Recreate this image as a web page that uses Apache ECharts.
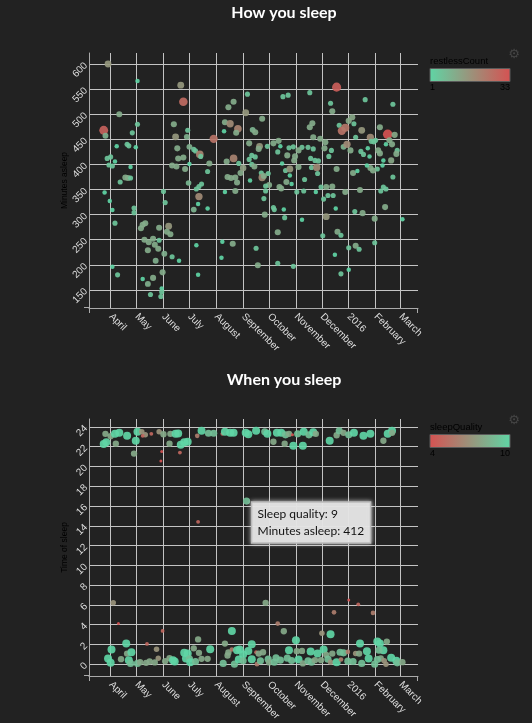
<!DOCTYPE html>
<html><head><meta charset="utf-8">
<script src="https://cdn.jsdelivr.net/npm/echarts@6/dist/echarts.min.js"></script>
<style>html,body{margin:0;padding:0;background:#222;}#c{width:532px;height:723px;}</style>
</head><body><div id="c"></div>
<script>
// ---- axes / ticks ----
const monthTickDates = ['2015-04-01','2015-05-01','2015-06-01','2015-07-01','2015-08-01','2015-09-01','2015-10-01','2015-11-01','2015-12-01','2016-01-01','2016-02-01','2016-03-01'];
const monthTickLabels = ['April','May','June','July','August','September','October','November','December','2016','February','March'];
const xDomain = ['2015-03-07','2016-03-21'];
const minutesTicks = [150,200,250,300,350,400,450,500,550,600];
const minutesDomain = [114,622];
const timeTicks = [0,2,4,6,8,10,12,14,16,18,20,22,24];
const timeDomain = [-1.2,24.8];
const restlessRange = [1,33];
const qualityRange = [4,10];

// ---- How you sleep ----
const howDates = ['2015-03-29','2015-05-02','2015-06-21','2015-06-24','2015-09-06','2015-08-21','2015-08-15','2015-09-04','2015-04-11','2015-05-02',
'2015-06-13','2015-08-11','2015-08-17','2015-08-26','2015-08-10','2015-08-24','2015-03-24','2015-03-26','2015-04-26','2015-06-29',
'2015-06-15','2015-06-28','2015-07-29','2015-04-08','2015-04-20','2015-04-22','2015-04-30','2015-06-17','2015-07-01','2015-07-06',
'2015-07-08','2015-07-13','2015-07-14','2015-06-18','2015-06-24','2015-03-28','2015-04-01','2015-04-06','2015-03-30','2015-04-03',
'2015-04-24','2015-06-11','2015-06-16','2015-07-01','2015-06-26','2015-07-24','2015-07-22','2015-08-13','2015-08-21','2015-08-27',
'2015-08-29','2015-09-01','2015-08-14','2015-08-18','2015-08-23','2015-08-25','2015-09-09','2015-04-18','2015-04-21','2015-04-24',
'2015-04-12','2015-03-25','2015-06-01','2015-06-30','2015-07-09','2015-07-12','2015-07-15','2015-07-12','2015-07-11','2015-07-06',
'2015-07-22','2015-08-11','2015-08-23','2015-03-31','2015-04-03','2015-04-28','2015-04-28','2015-06-03','2015-04-06','2015-05-11',
'2015-05-08','2015-05-06','2015-05-27','2015-06-07','2015-06-05','2015-06-09','2015-05-10','2015-05-15','2015-05-20','2015-05-22',
'2015-05-26','2015-05-27','2015-05-14','2015-06-02','2015-06-11','2015-06-19','2015-05-23','2015-07-09','2015-08-08','2015-08-20',
'2015-08-07','2015-04-03','2015-04-09','2015-05-31','2015-05-08','2015-05-20','2015-05-14','2015-05-17','2015-05-30','2015-05-30',
'2015-05-29','2015-07-11',
'2015-12-18','2015-10-17','2015-10-23','2015-11-17','2015-12-11','2015-12-13','2016-01-20','2016-02-21','2015-09-23','2015-09-12',
'2015-09-15','2015-11-20','2015-11-17','2015-12-21','2015-12-24','2015-12-28','2016-01-01','2016-01-05','2016-01-07','2016-01-16',
'2016-02-06','2016-02-15','2016-02-23','2016-01-26','2016-01-09','2015-11-21','2015-11-29','2015-12-05','2015-10-12','2015-10-06',
'2015-09-20','2015-09-19','2015-09-08','2015-09-29','2015-10-14','2015-10-24','2015-10-29','2015-11-08','2015-11-15','2015-11-21',
'2015-12-04','2015-11-04','2015-10-11','2015-10-22','2015-10-31','2015-12-12','2015-12-09','2015-12-26','2015-12-30','2016-01-03',
'2016-01-15','2016-01-18','2016-01-23','2016-01-25','2016-01-27','2016-02-01','2016-01-30','2016-02-13','2016-02-17','2016-02-20',
'2016-02-04','2016-02-06','2016-02-26','2016-02-25','2016-02-19','2016-02-10','2016-02-09','2016-02-03','2016-01-29','2016-01-26',
'2016-01-22','2015-12-18','2016-01-06','2016-01-11','2016-02-21','2015-09-15','2015-09-11','2015-09-11','2015-09-14','2015-09-08',
'2015-09-22','2015-09-30','2015-09-23','2015-09-25','2015-10-16','2015-10-20','2015-10-25','2015-10-25','2015-10-30','2015-11-04',
'2015-11-19','2015-11-18','2015-11-23','2015-11-27','2015-11-25','2015-11-26','2015-10-21','2015-10-27','2015-11-11','2015-10-01',
'2015-09-27','2015-09-27','2015-10-13','2015-10-15','2015-11-02','2015-11-10','2015-11-24','2015-11-30','2015-12-06','2015-12-13',
'2015-12-03','2015-12-08','2015-12-14','2015-12-28','2016-01-14','2016-02-07','2016-02-10','2016-02-13','2016-02-12','2015-09-25',
'2015-10-06','2015-10-07','2015-09-26','2015-10-18','2015-10-19','2015-11-08','2015-12-06','2015-12-17','2016-01-08','2016-01-17',
'2016-01-31','2016-03-03','2015-10-11','2015-12-02','2015-12-19','2015-12-23','2015-09-16','2015-09-18','2015-10-11','2015-10-29',
'2016-01-01','2016-01-09','2016-01-13','2015-12-16','2016-01-31','2016-01-01','2015-12-23'];
const howMinutes = [600,566,558,525,540,525,514,503,500,480,
480,484,481,471,466,463,468,457,463,468,
455,455,451,436,440,437,434,432,435,430,
427,420,416,412,414,412,415,406,399,397,
395,398,396,401,391,402,386,406,412,402,
383,393,375,373,374,364,368,374,373,373,
365,344,346,363,351,356,361,336,321,310,
312,345,347,327,309,313,304,324,283,283,
280,273,274,277,266,261,250,245,252,240,
232,249,229,222,216,208,208,239,246,242,
214,196,180,185,172,174,162,141,153,146,
137,180,
554,535,538,543,522,506,529,520,491,469,
464,482,474,478,467,473,487,494,481,468,
474,460,459,454,454,454,451,444,447,442,
436,431,442,436,436,433,435,434,434,431,
432,428,425,418,416,428,416,435,440,428,
426,420,432,416,446,448,445,440,448,440,
428,422,428,421,408,408,398,391,388,393,
398,391,383,387,375,415,418,400,396,410,
383,382,374,377,402,388,378,391,408,395,
394,412,408,407,394,382,365,361,370,359,
357,347,355,352,345,347,345,355,355,356,
331,338,338,345,349,347,355,351,315,332,
314,310,300,310,294,290,296,312,306,303,
292,291,265,258,266,259,233,199,203,197,
234,238,231,220,244,190,182];
const howRestless = [16,1,16,27,5,11,11,16,11,5,
11,11,19,21,1,11,29,10,5,5,
16,10,25,1,5,5,1,11,10,5,
5,21,5,11,11,5,5,1,5,5,
1,11,11,1,11,11,5,11,21,5,
11,14,11,11,11,11,1,11,11,5,
5,1,5,8,5,5,5,19,1,9,
1,1,11,1,1,5,5,5,5,11,
11,11,11,16,11,11,11,11,11,11,
11,5,11,10,5,1,10,1,1,11,
1,1,5,11,1,11,10,5,1,5,
5,1,
30,5,5,5,5,11,5,5,11,9,
11,11,11,5,25,24,12,12,5,16,
11,33,12,19,5,11,11,11,11,11,
16,11,11,5,1,5,5,5,5,5,
11,11,5,11,11,5,5,9,19,11,
5,5,1,1,5,5,5,1,11,11,
11,11,5,11,12,1,1,5,11,11,
1,11,11,1,5,5,5,5,11,5,
5,5,19,11,1,5,1,16,11,11,
5,5,5,5,19,5,11,1,5,11,
5,5,11,11,5,5,1,5,11,11,
5,5,5,11,11,5,5,5,11,5,
5,5,11,1,5,1,16,1,5,11,
11,1,11,5,11,5,5,11,5,5,
5,11,5,1,5,1,5];

// ---- When you sleep ----
const whenDates = ['2015-03-24','2015-03-27','2015-03-26','2015-04-01','2015-04-07','2015-04-06','2015-04-11','2015-04-20','2015-04-28','2015-04-30',
'2015-05-02','2015-05-07','2015-05-11','2015-05-08','2015-05-18','2015-05-27','2015-06-01','2015-06-08','2015-06-09','2015-06-15',
'2015-06-18','2015-05-30','2015-05-29','2015-06-20','2015-06-21','2015-06-25','2015-06-29','2015-07-11','2015-07-10','2015-07-15',
'2015-07-23','2015-07-29','2015-08-08','2015-08-11','2015-08-17','2015-08-21','2015-09-04','2015-09-07','2015-09-05','2015-09-16',
'2015-09-26','2015-09-29','2015-10-06','2015-10-10','2015-10-15','2015-10-19','2015-10-20','2015-10-24','2015-10-28','2015-10-29',
'2015-11-03','2015-11-09','2015-11-10','2015-11-16','2015-11-21','2015-11-24','2015-12-10','2015-12-18','2015-12-21','2015-12-26',
'2016-01-01','2016-01-07','2016-01-18','2016-01-26','2016-02-10','2016-02-15','2016-02-20','2016-02-20',
'2015-04-04','2015-04-10','2015-04-02','2015-03-29','2015-04-01','2015-04-13','2015-04-19','2015-04-20','2015-04-25','2015-04-22',
'2015-04-24','2015-05-02','2015-05-05','2015-05-13','2015-05-12','2015-05-16','2015-05-24','2015-05-26','2015-05-22','2015-05-31',
'2015-06-03','2015-06-08','2015-06-12','2015-06-14','2015-06-25','2015-06-29','2015-06-27','2015-07-01','2015-07-02','2015-07-06',
'2015-07-11','2015-07-12','2015-07-08','2015-07-15','2015-07-22','2015-07-25','2015-08-11','2015-08-09','2015-08-14','2015-08-15',
'2015-08-19','2015-08-19','2015-08-22','2015-08-25','2015-08-28','2015-08-27','2015-09-01','2015-09-01','2015-09-07','2015-09-11',
'2015-09-11','2015-09-16','2015-09-17','2015-09-19','2015-09-24','2015-09-21','2015-09-27','2015-09-30','2015-10-01','2015-10-07',
'2015-10-11','2015-10-09','2015-10-14','2015-10-18','2015-10-24','2015-10-22','2015-10-27','2015-11-01','2015-11-02','2015-11-08',
'2015-11-04','2015-11-09','2015-11-15','2015-11-18','2015-11-19','2015-11-23','2015-11-26','2015-11-30','2015-12-01','2015-12-03',
'2015-12-06','2015-12-08','2015-12-11','2015-12-13','2015-12-15','2015-12-11','2015-12-18','2015-12-23','2015-12-22','2015-12-26',
'2016-01-01','2015-12-31','2015-12-31','2016-01-06','2016-01-09','2016-01-13','2016-01-12','2016-01-14','2016-01-16','2016-01-22',
'2016-01-24','2016-01-29','2016-01-31','2016-02-03','2016-02-06','2016-02-10','2016-02-07','2016-02-11','2016-02-14','2016-02-13',
'2016-02-19','2016-02-25','2016-02-26','2016-03-03','2016-02-03','2016-02-05'];
const whenTime = [22.28,22.45,23.3,23.06,22.3,23.3,23.4,23.1,21.3,22.6,
23.5,23.5,23.2,23.1,23.3,23.5,23.26,22.3,23.3,23.3,
23.33,21.5,20.56,21.4,22.2,22.45,22.5,14.4,23.1,23.6,
23.36,23.36,23.3,23.5,23.4,23.4,23.4,23.26,16.5,23.6,
23.5,23.3,22.5,23.4,23.4,22.3,23.2,23.3,23.2,22.1,
23.3,22.1,23.5,23.2,23.46,23.3,22.6,23.16,23.6,23.4,
23.2,23.4,23.1,23.3,22.6,23.3,23.6,23.4,
6.2,4.1,1.48,0.57,0.13,0.5,2.08,1.07,1.2,0.4,
0.07,0.07,0.2,2.05,0.13,0.27,1.5,0.6,0.17,3.36,
0.3,0.6,0.4,0.27,1.14,1.08,0.57,0.54,0.2,1.6,
2.5,1.14,0.27,0.54,0.54,1.5,2.08,0.07,0.87,1.18,
3.36,1.48,0.0,1.41,1.48,0.47,0.97,0.34,1.34,2.0,
0.5,1.2,0.0,1.07,1.2,0.34,6.2,0.5,0.17,0.2,
4.1,0.64,0.4,3.33,1.41,0.6,0.37,2.42,1.31,1.34,
0.47,0.07,0.34,1.28,0.2,0.4,1.07,0.4,3.13,1.48,
0.94,0.5,3.02,1.07,5.24,0.2,0.2,0.47,1.2,1.14,
6.5,1.24,0.3,0.27,1.07,1.07,6.05,2.08,0.07,1.31,
0.57,5.18,0.0,2.28,2.08,1.41,0.57,0.34,2.28,0.0,
0.64,0.34,0.13,0.2,0.47,1.41];
const whenQuality = [10,10,8,8,8,10,10,10,8,10,
10,7,7,5,5,7,8,8,8,10,
10,4,4,5,10,10,10,5,6,10,
9,9,5,10,10,10,10,10,9,10,
9,10,8,10,10,8,9,8,4,10,
9,10,10,9,10,8,10,8,9,8,
9,10,10,10,8,10,10,8,
7,4,10,10,10,8,10,8,10,10,
9,9,8,5,8,8,7,7,8,5,
8,8,10,10,10,10,10,9,10,8,
8,8,9,8,8,10,8,9,8,8,
10,6,9,10,10,10,10,9,10,10,
10,5,6,8,8,9,8,9,8,9,
6,9,9,8,10,9,9,10,8,8,
10,8,9,10,9,8,10,8,7,10,
8,9,10,8,6,7,10,6,9,9,
4,6,9,9,7,8,5,10,9,10,
10,6,9,10,10,10,8,7,8,7,
10,10,9,8,9,9];

// highlighted night (tooltip)
const tipDate = '2015-09-05';
const tipMinutes = 412;

const ts = d => Date.parse(d);
const monthTs = monthTickDates.map(ts);
const FONT = '"Liberation Sans", Arial, Helvetica, sans-serif';
const TITLEFONT = 'Lato, "Noto Sans", sans-serif';
const gridColor = '#c4c4c4';
const axisColor = '#aaa';
const cGreen = '#5fd5a5', cRed = '#d55252';

function xAxisFor(gi) {
  return {
    type: 'value', gridIndex: gi, min: ts(xDomain[0]), max: ts(xDomain[1]),
    axisLine: { show: true, onZero: false, lineStyle: { color: axisColor, width: 1 } },
    axisTick: { show: false, customValues: monthTs },
    axisLabel: { show: true, customValues: monthTs, rotate: -45, margin: 7, color: '#ddd', fontSize: 10, fontFamily: FONT,
      formatter: v => { const i = monthTs.indexOf(v); return i >= 0 ? monthTickLabels[i] : ''; } },
    splitLine: { show: true, lineStyle: { color: gridColor, width: 1 } }
  };
}
function yAxisFor(gi, dom, ticks, name) {
  return {
    type: 'value', gridIndex: gi, min: dom[0], max: dom[1],
    name: name, nameLocation: 'middle', nameGap: 20, nameRotate: 90, nameMoveOverlap: false,
    nameTextStyle: { color: '#000', fontSize: 8.5, fontFamily: FONT },
    axisLine: { show: true, onZero: false, lineStyle: { color: axisColor, width: 1 } },
    axisTick: { show: false, customValues: ticks },
    axisLabel: { show: true, customValues: ticks, rotate: 45, margin: 3, color: '#ddd', fontSize: 10, fontFamily: FONT },
    splitLine: { show: true, lineStyle: { color: gridColor, width: 1 } }
  };
}

const howData = howDates.map((d, i) => [ts(d), howMinutes[i], howRestless[i]]);
const whenData = whenDates.map((d, i) => [ts(d), whenTime[i], whenQuality[i]]);

const chart = echarts.init(document.getElementById('c'), null, { renderer: 'canvas' });

function legend(id, y, title, lo, hi, colors) {
  return [
    { id: id + 't', type: 'text', x: 430, y: y - 7, style: { text: title, fill: '#000', font: '9.5px ' + FONT, verticalAlign: 'middle' } },
    { id: id + 'r', type: 'rect', shape: { x: 430, y: y, width: 80, height: 13 },
      style: { fill: new echarts.graphic.LinearGradient(0, 0, 1, 0, [{ offset: 0, color: colors[0] }, { offset: 1, color: colors[1] }]), stroke: '#5a5a5a', lineWidth: 1 } },
    { id: id + 'lo', type: 'text', x: 430, y: y + 19, style: { text: String(lo), fill: '#000', font: '9px ' + FONT, verticalAlign: 'middle', align: 'left' } },
    { id: id + 'hi', type: 'text', x: 510, y: y + 19, style: { text: String(hi), fill: '#000', font: '9px ' + FONT, verticalAlign: 'middle', align: 'right' } }
  ];
}

const option = {
  backgroundColor: '#222',
  animation: false,
  title: [
    { text: 'How you sleep', left: 284, top: 5, textAlign: 'center', padding: 0, textStyle: { color: '#fff', fontSize: 16, fontWeight: 'bold', fontFamily: TITLEFONT } },
    { text: 'When you sleep', left: 284, top: 372, textAlign: 'center', padding: 0, textStyle: { color: '#fff', fontSize: 16, fontWeight: 'bold', fontFamily: TITLEFONT } }
  ],
  grid: [
    { left: 89, top: 53, width: 329, height: 255, containLabel: false, outerBoundsMode: 'none' },
    { left: 89, top: 419, width: 329, height: 257, containLabel: false, outerBoundsMode: 'none' }
  ],
  xAxis: [xAxisFor(0), xAxisFor(1)],
  yAxis: [yAxisFor(0, minutesDomain, minutesTicks, 'Minutes asleep'), yAxisFor(1, timeDomain, timeTicks, 'Time of sleep')],
  visualMap: [
    { show: false, type: 'continuous', seriesIndex: 0, dimension: 2, min: restlessRange[0], max: restlessRange[1],
      inRange: { color: [cGreen, cRed], symbolSize: [4.5, 9.5] } },
    { show: false, type: 'continuous', seriesIndex: 1, dimension: 2, min: qualityRange[0], max: qualityRange[1],
      inRange: { color: [cRed, cGreen], symbolSize: [3, 8] } }
  ],
  series: [
    { type: 'scatter', xAxisIndex: 0, yAxisIndex: 0, data: howData, itemStyle: { opacity: 0.92 }, z: 3 },
    { type: 'scatter', xAxisIndex: 1, yAxisIndex: 1, data: whenData, itemStyle: { opacity: 0.92 }, z: 3 }
  ]
};
chart.setOption(option);

// outer ticks at the axis ends, placed through the chart's own scales
function outerTicks(gi, yDom) {
  const lo = chart.convertToPixel({ gridIndex: gi }, [ts(xDomain[0]), yDom[0]]);
  const hi = chart.convertToPixel({ gridIndex: gi }, [ts(xDomain[1]), yDom[0]]);
  const st = { stroke: axisColor, lineWidth: 1 };
  return [
    { id: 'ot' + gi + 'a', type: 'line', shape: { x1: lo[0] + 0.5, y1: lo[1], x2: lo[0] + 0.5, y2: lo[1] + 5 }, style: st },
    { id: 'ot' + gi + 'b', type: 'line', shape: { x1: hi[0] - 0.5, y1: hi[1], x2: hi[0] - 0.5, y2: hi[1] + 5 }, style: st },
    { id: 'ot' + gi + 'c', type: 'line', shape: { x1: lo[0] - 5, y1: lo[1] - 0.5, x2: lo[0], y2: lo[1] - 0.5 }, style: st }
  ];
}

// tooltip for the highlighted night, placed through the chart's own scales
const tipIdx = whenDates.findIndex((d, i) => d === tipDate && whenTime[i] > 12);
const p = chart.convertToPixel({ seriesIndex: 1 }, [ts(whenDates[tipIdx]), whenTime[tipIdx]]);
const graphics = [].concat(
  legend('lg1', 68.5, 'restlessCount', restlessRange[0], restlessRange[1], [cGreen, cRed]),
  legend('lg2', 434.5, 'sleepQuality', qualityRange[0], qualityRange[1], [cRed, cGreen]),
  outerTicks(0, minutesDomain),
  outerTicks(1, timeDomain),
  [
    { id: 'gear1', type: 'text', x: 514, y: 55, style: { text: '\u2699', fill: '#454545', font: '13px "DejaVu Sans"', align: 'center', verticalAlign: 'middle' } },
    { id: 'gear2', type: 'text', x: 514, y: 421, style: { text: '\u2699', fill: '#454545', font: '13px "DejaVu Sans"', align: 'center', verticalAlign: 'middle' } },
    { id: 'tipbox', type: 'rect', z: 100, shape: { x: p[0] + 5, y: p[1] + 1, width: 119, height: 41 },
      style: { fill: 'rgba(226,226,226,0.9)', stroke: '#bbb', lineWidth: 1.5, shadowBlur: 4, shadowColor: 'rgba(240,240,240,0.8)' } },
    { id: 'tipl1', type: 'text', z: 101, x: p[0] + 11, y: p[1] + 13, style: { text: 'Sleep quality: ' + whenQuality[tipIdx], fill: '#111', font: '12px ' + TITLEFONT, verticalAlign: 'middle' } },
    { id: 'tipl2', type: 'text', z: 101, x: p[0] + 11, y: p[1] + 30, style: { text: 'Minutes asleep: ' + tipMinutes, fill: '#111', font: '12px ' + TITLEFONT, verticalAlign: 'middle' } }
  ]
);
chart.setOption({ graphic: graphics });
</script>
</body></html>
